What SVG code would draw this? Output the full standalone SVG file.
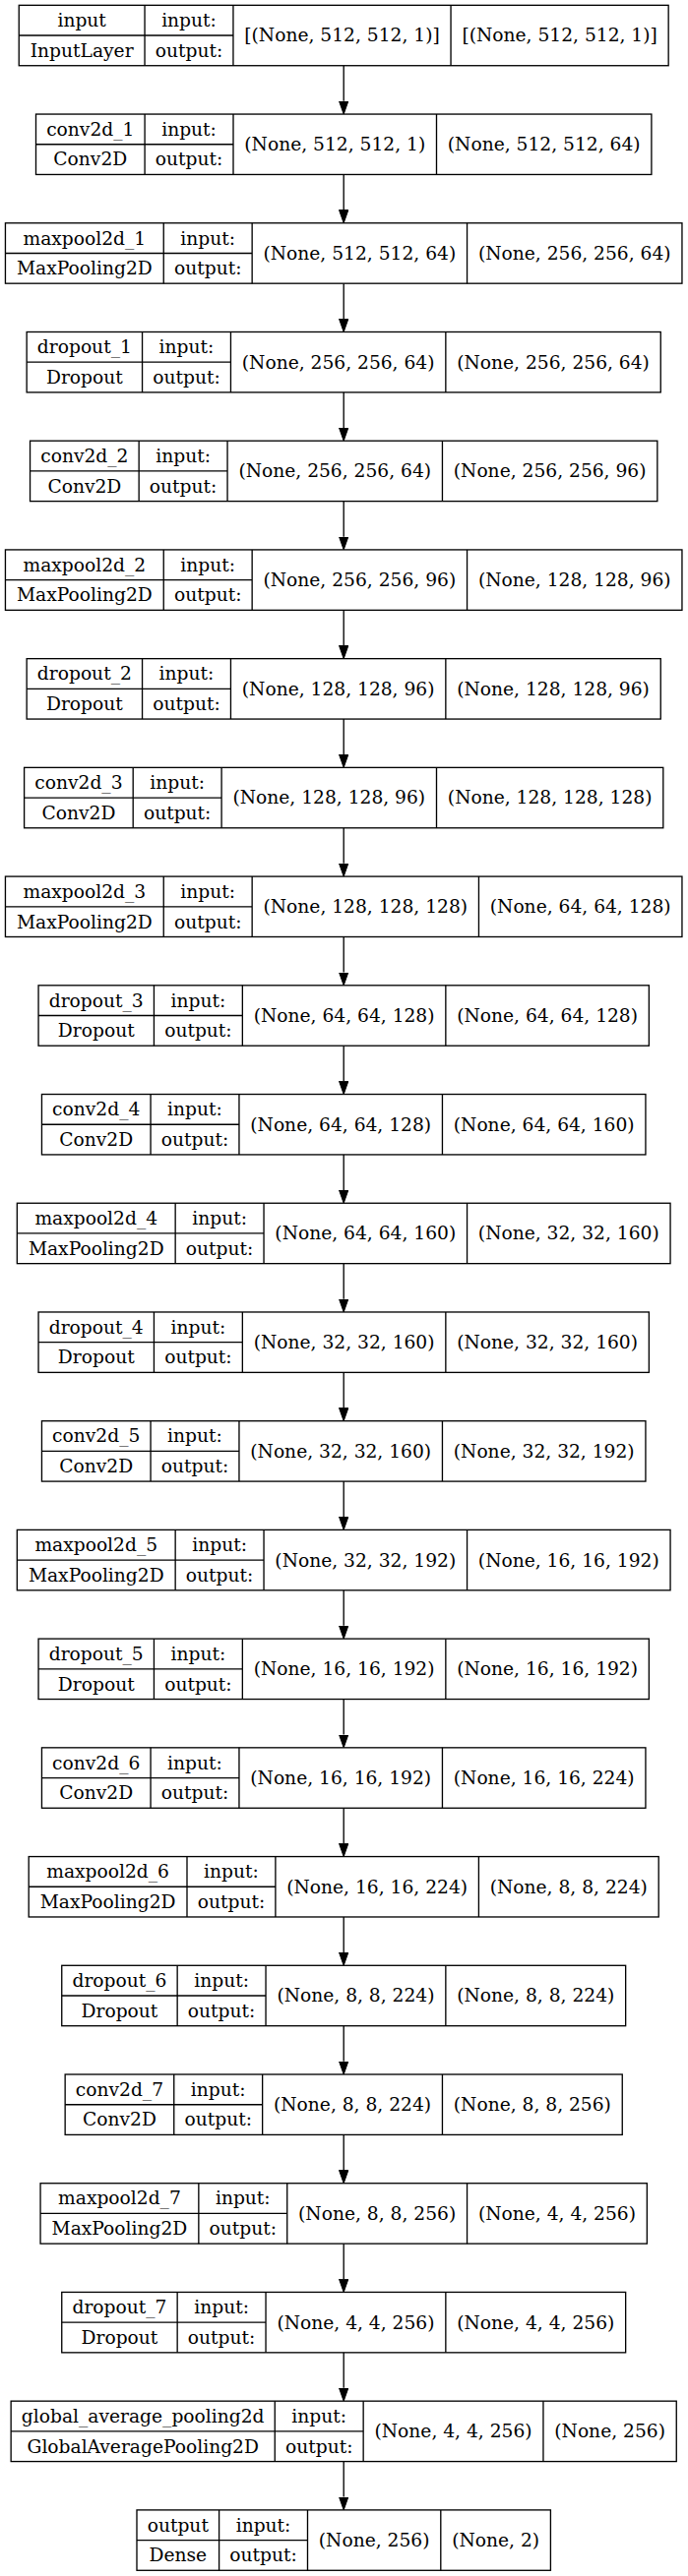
<svg xmlns="http://www.w3.org/2000/svg" width="699" height="2619" viewBox="0 0 699 2619">
<style>
.b{fill:#fff;stroke:#000;stroke-width:1.33}
.l{stroke:#000;stroke-width:1.33;fill:none}
text{font-family:"DejaVu Serif","Liberation Serif",serif;font-size:18.67px;text-anchor:middle;fill:#000}
.e{stroke:#000;stroke-width:1.33;fill:none;marker-end:url(#ah)}
</style>
<defs>
<marker id="ah" markerUnits="userSpaceOnUse" markerWidth="14" markerHeight="10" refX="0" refY="5" orient="auto"><path d="M0,0.33 L13.3,5 L0,9.67 z" fill="#000" stroke="#000" stroke-width="1"/></marker>
</defs>
<rect width="699" height="2619" fill="#fff"/>
<g id="connectors">
<line class="e" x1="349.2" y1="66.73" x2="349.2" y2="102.75"/>
<line class="e" x1="349.2" y1="177.45" x2="349.2" y2="213.47"/>
<line class="e" x1="349.2" y1="288.17" x2="349.2" y2="324.19"/>
<line class="e" x1="349.2" y1="398.89" x2="349.2" y2="434.91"/>
<line class="e" x1="349.2" y1="509.61" x2="349.2" y2="545.63"/>
<line class="e" x1="349.2" y1="620.33" x2="349.2" y2="656.35"/>
<line class="e" x1="349.2" y1="731.05" x2="349.2" y2="767.07"/>
<line class="e" x1="349.2" y1="841.77" x2="349.2" y2="877.79"/>
<line class="e" x1="349.2" y1="952.49" x2="349.2" y2="988.51"/>
<line class="e" x1="349.2" y1="1063.21" x2="349.2" y2="1099.23"/>
<line class="e" x1="349.2" y1="1173.93" x2="349.2" y2="1209.95"/>
<line class="e" x1="349.2" y1="1284.65" x2="349.2" y2="1320.67"/>
<line class="e" x1="349.2" y1="1395.37" x2="349.2" y2="1431.39"/>
<line class="e" x1="349.2" y1="1506.09" x2="349.2" y2="1542.11"/>
<line class="e" x1="349.2" y1="1616.81" x2="349.2" y2="1652.83"/>
<line class="e" x1="349.2" y1="1727.53" x2="349.2" y2="1763.55"/>
<line class="e" x1="349.2" y1="1838.25" x2="349.2" y2="1874.27"/>
<line class="e" x1="349.2" y1="1948.97" x2="349.2" y2="1984.99"/>
<line class="e" x1="349.2" y1="2059.69" x2="349.2" y2="2095.71"/>
<line class="e" x1="349.2" y1="2170.41" x2="349.2" y2="2206.43"/>
<line class="e" x1="349.2" y1="2281.13" x2="349.2" y2="2317.15"/>
<line class="e" x1="349.2" y1="2391.85" x2="349.2" y2="2427.87"/>
<line class="e" x1="349.2" y1="2502.57" x2="349.2" y2="2538.59"/>
</g>

<g id="input" transform="translate(19.25,5.33)">
<rect class="b" width="659.9" height="61.4"/>
<path class="l" d="M127.8,0V61.4M217.7,0V61.4M438.8,0V61.4M0,30.7H217.7"/>
<text x="63.9" y="21.75">input</text><text x="63.9" y="52.45">InputLayer</text>
<text x="172.75" y="21.75">input:</text><text x="172.75" y="52.45">output:</text>
<text x="328.25" y="37.1">[(None, 512, 512, 1)]</text><text x="549.35" y="37.1">[(None, 512, 512, 1)]</text>
</g>

<g id="conv2d_1" transform="translate(36.5,116.05)">
<rect class="b" width="625.4" height="61.4"/>
<path class="l" d="M110.6,0V61.4M200.5,0V61.4M407,0V61.4M0,30.7H200.5"/>
<text x="55.3" y="21.75">conv2d_1</text><text x="55.3" y="52.45">Conv2D</text>
<text x="155.55" y="21.75">input:</text><text x="155.55" y="52.45">output:</text>
<text x="303.75" y="37.1">(None, 512, 512, 1)</text><text x="516.2" y="37.1">(None, 512, 512, 64)</text>
</g>

<g id="maxpool2d_1" transform="translate(5.45,226.77)">
<rect class="b" width="687.5" height="61.4"/>
<path class="l" d="M160.8,0V61.4M250.7,0V61.4M469.1,0V61.4M0,30.7H250.7"/>
<text x="80.4" y="21.75">maxpool2d_1</text><text x="80.4" y="52.45">MaxPooling2D</text>
<text x="205.75" y="21.75">input:</text><text x="205.75" y="52.45">output:</text>
<text x="359.9" y="37.1">(None, 512, 512, 64)</text><text x="578.3" y="37.1">(None, 256, 256, 64)</text>
</g>

<g id="dropout_1" transform="translate(27.15,337.49)">
<rect class="b" width="644.1" height="61.4"/>
<path class="l" d="M117.4,0V61.4M207.3,0V61.4M425.7,0V61.4M0,30.7H207.3"/>
<text x="58.7" y="21.75">dropout_1</text><text x="58.7" y="52.45">Dropout</text>
<text x="162.35" y="21.75">input:</text><text x="162.35" y="52.45">output:</text>
<text x="316.5" y="37.1">(None, 256, 256, 64)</text><text x="534.9" y="37.1">(None, 256, 256, 64)</text>
</g>

<g id="conv2d_2" transform="translate(30.55,448.21)">
<rect class="b" width="637.3" height="61.4"/>
<path class="l" d="M110.6,0V61.4M200.5,0V61.4M418.9,0V61.4M0,30.7H200.5"/>
<text x="55.3" y="21.75">conv2d_2</text><text x="55.3" y="52.45">Conv2D</text>
<text x="155.55" y="21.75">input:</text><text x="155.55" y="52.45">output:</text>
<text x="309.7" y="37.1">(None, 256, 256, 64)</text><text x="528.1" y="37.1">(None, 256, 256, 96)</text>
</g>

<g id="maxpool2d_2" transform="translate(5.45,558.93)">
<rect class="b" width="687.5" height="61.4"/>
<path class="l" d="M160.8,0V61.4M250.7,0V61.4M469.1,0V61.4M0,30.7H250.7"/>
<text x="80.4" y="21.75">maxpool2d_2</text><text x="80.4" y="52.45">MaxPooling2D</text>
<text x="205.75" y="21.75">input:</text><text x="205.75" y="52.45">output:</text>
<text x="359.9" y="37.1">(None, 256, 256, 96)</text><text x="578.3" y="37.1">(None, 128, 128, 96)</text>
</g>

<g id="dropout_2" transform="translate(27.15,669.65)">
<rect class="b" width="644.1" height="61.4"/>
<path class="l" d="M117.4,0V61.4M207.3,0V61.4M425.7,0V61.4M0,30.7H207.3"/>
<text x="58.7" y="21.75">dropout_2</text><text x="58.7" y="52.45">Dropout</text>
<text x="162.35" y="21.75">input:</text><text x="162.35" y="52.45">output:</text>
<text x="316.5" y="37.1">(None, 128, 128, 96)</text><text x="534.9" y="37.1">(None, 128, 128, 96)</text>
</g>

<g id="conv2d_3" transform="translate(24.6,780.37)">
<rect class="b" width="649.2" height="61.4"/>
<path class="l" d="M110.6,0V61.4M200.5,0V61.4M418.9,0V61.4M0,30.7H200.5"/>
<text x="55.3" y="21.75">conv2d_3</text><text x="55.3" y="52.45">Conv2D</text>
<text x="155.55" y="21.75">input:</text><text x="155.55" y="52.45">output:</text>
<text x="309.7" y="37.1">(None, 128, 128, 96)</text><text x="534.05" y="37.1">(None, 128, 128, 128)</text>
</g>

<g id="maxpool2d_3" transform="translate(5.45,891.09)">
<rect class="b" width="687.5" height="61.4"/>
<path class="l" d="M160.8,0V61.4M250.7,0V61.4M481,0V61.4M0,30.7H250.7"/>
<text x="80.4" y="21.75">maxpool2d_3</text><text x="80.4" y="52.45">MaxPooling2D</text>
<text x="205.75" y="21.75">input:</text><text x="205.75" y="52.45">output:</text>
<text x="365.85" y="37.1">(None, 128, 128, 128)</text><text x="584.25" y="37.1">(None, 64, 64, 128)</text>
</g>

<g id="dropout_3" transform="translate(39.05,1001.81)">
<rect class="b" width="620.3" height="61.4"/>
<path class="l" d="M117.4,0V61.4M207.3,0V61.4M413.8,0V61.4M0,30.7H207.3"/>
<text x="58.7" y="21.75">dropout_3</text><text x="58.7" y="52.45">Dropout</text>
<text x="162.35" y="21.75">input:</text><text x="162.35" y="52.45">output:</text>
<text x="310.55" y="37.1">(None, 64, 64, 128)</text><text x="517.05" y="37.1">(None, 64, 64, 128)</text>
</g>

<g id="conv2d_4" transform="translate(42.45,1112.53)">
<rect class="b" width="613.5" height="61.4"/>
<path class="l" d="M110.6,0V61.4M200.5,0V61.4M407,0V61.4M0,30.7H200.5"/>
<text x="55.3" y="21.75">conv2d_4</text><text x="55.3" y="52.45">Conv2D</text>
<text x="155.55" y="21.75">input:</text><text x="155.55" y="52.45">output:</text>
<text x="303.75" y="37.1">(None, 64, 64, 128)</text><text x="510.25" y="37.1">(None, 64, 64, 160)</text>
</g>

<g id="maxpool2d_4" transform="translate(17.35,1223.25)">
<rect class="b" width="663.7" height="61.4"/>
<path class="l" d="M160.8,0V61.4M250.7,0V61.4M457.2,0V61.4M0,30.7H250.7"/>
<text x="80.4" y="21.75">maxpool2d_4</text><text x="80.4" y="52.45">MaxPooling2D</text>
<text x="205.75" y="21.75">input:</text><text x="205.75" y="52.45">output:</text>
<text x="353.95" y="37.1">(None, 64, 64, 160)</text><text x="560.45" y="37.1">(None, 32, 32, 160)</text>
</g>

<g id="dropout_4" transform="translate(39.05,1333.97)">
<rect class="b" width="620.3" height="61.4"/>
<path class="l" d="M117.4,0V61.4M207.3,0V61.4M413.8,0V61.4M0,30.7H207.3"/>
<text x="58.7" y="21.75">dropout_4</text><text x="58.7" y="52.45">Dropout</text>
<text x="162.35" y="21.75">input:</text><text x="162.35" y="52.45">output:</text>
<text x="310.55" y="37.1">(None, 32, 32, 160)</text><text x="517.05" y="37.1">(None, 32, 32, 160)</text>
</g>

<g id="conv2d_5" transform="translate(42.45,1444.69)">
<rect class="b" width="613.5" height="61.4"/>
<path class="l" d="M110.6,0V61.4M200.5,0V61.4M407,0V61.4M0,30.7H200.5"/>
<text x="55.3" y="21.75">conv2d_5</text><text x="55.3" y="52.45">Conv2D</text>
<text x="155.55" y="21.75">input:</text><text x="155.55" y="52.45">output:</text>
<text x="303.75" y="37.1">(None, 32, 32, 160)</text><text x="510.25" y="37.1">(None, 32, 32, 192)</text>
</g>

<g id="maxpool2d_5" transform="translate(17.35,1555.41)">
<rect class="b" width="663.7" height="61.4"/>
<path class="l" d="M160.8,0V61.4M250.7,0V61.4M457.2,0V61.4M0,30.7H250.7"/>
<text x="80.4" y="21.75">maxpool2d_5</text><text x="80.4" y="52.45">MaxPooling2D</text>
<text x="205.75" y="21.75">input:</text><text x="205.75" y="52.45">output:</text>
<text x="353.95" y="37.1">(None, 32, 32, 192)</text><text x="560.45" y="37.1">(None, 16, 16, 192)</text>
</g>

<g id="dropout_5" transform="translate(39.05,1666.13)">
<rect class="b" width="620.3" height="61.4"/>
<path class="l" d="M117.4,0V61.4M207.3,0V61.4M413.8,0V61.4M0,30.7H207.3"/>
<text x="58.7" y="21.75">dropout_5</text><text x="58.7" y="52.45">Dropout</text>
<text x="162.35" y="21.75">input:</text><text x="162.35" y="52.45">output:</text>
<text x="310.55" y="37.1">(None, 16, 16, 192)</text><text x="517.05" y="37.1">(None, 16, 16, 192)</text>
</g>

<g id="conv2d_6" transform="translate(42.45,1776.85)">
<rect class="b" width="613.5" height="61.4"/>
<path class="l" d="M110.6,0V61.4M200.5,0V61.4M407,0V61.4M0,30.7H200.5"/>
<text x="55.3" y="21.75">conv2d_6</text><text x="55.3" y="52.45">Conv2D</text>
<text x="155.55" y="21.75">input:</text><text x="155.55" y="52.45">output:</text>
<text x="303.75" y="37.1">(None, 16, 16, 192)</text><text x="510.25" y="37.1">(None, 16, 16, 224)</text>
</g>

<g id="maxpool2d_6" transform="translate(29.2,1887.57)">
<rect class="b" width="640" height="61.4"/>
<path class="l" d="M160.8,0V61.4M250.7,0V61.4M457.2,0V61.4M0,30.7H250.7"/>
<text x="80.4" y="21.75">maxpool2d_6</text><text x="80.4" y="52.45">MaxPooling2D</text>
<text x="205.75" y="21.75">input:</text><text x="205.75" y="52.45">output:</text>
<text x="353.95" y="37.1">(None, 16, 16, 224)</text><text x="548.6" y="37.1">(None, 8, 8, 224)</text>
</g>

<g id="dropout_6" transform="translate(62.75,1998.29)">
<rect class="b" width="572.9" height="61.4"/>
<path class="l" d="M117.4,0V61.4M207.3,0V61.4M390.1,0V61.4M0,30.7H207.3"/>
<text x="58.7" y="21.75">dropout_6</text><text x="58.7" y="52.45">Dropout</text>
<text x="162.35" y="21.75">input:</text><text x="162.35" y="52.45">output:</text>
<text x="298.7" y="37.1">(None, 8, 8, 224)</text><text x="481.5" y="37.1">(None, 8, 8, 224)</text>
</g>

<g id="conv2d_7" transform="translate(66.15,2109.01)">
<rect class="b" width="566.1" height="61.4"/>
<path class="l" d="M110.6,0V61.4M200.5,0V61.4M383.3,0V61.4M0,30.7H200.5"/>
<text x="55.3" y="21.75">conv2d_7</text><text x="55.3" y="52.45">Conv2D</text>
<text x="155.55" y="21.75">input:</text><text x="155.55" y="52.45">output:</text>
<text x="291.9" y="37.1">(None, 8, 8, 224)</text><text x="474.7" y="37.1">(None, 8, 8, 256)</text>
</g>

<g id="maxpool2d_7" transform="translate(41.05,2219.73)">
<rect class="b" width="616.3" height="61.4"/>
<path class="l" d="M160.8,0V61.4M250.7,0V61.4M433.5,0V61.4M0,30.7H250.7"/>
<text x="80.4" y="21.75">maxpool2d_7</text><text x="80.4" y="52.45">MaxPooling2D</text>
<text x="205.75" y="21.75">input:</text><text x="205.75" y="52.45">output:</text>
<text x="342.1" y="37.1">(None, 8, 8, 256)</text><text x="524.9" y="37.1">(None, 4, 4, 256)</text>
</g>

<g id="dropout_7" transform="translate(62.75,2330.45)">
<rect class="b" width="572.9" height="61.4"/>
<path class="l" d="M117.4,0V61.4M207.3,0V61.4M390.1,0V61.4M0,30.7H207.3"/>
<text x="58.7" y="21.75">dropout_7</text><text x="58.7" y="52.45">Dropout</text>
<text x="162.35" y="21.75">input:</text><text x="162.35" y="52.45">output:</text>
<text x="298.7" y="37.1">(None, 4, 4, 256)</text><text x="481.5" y="37.1">(None, 4, 4, 256)</text>
</g>

<g id="global_average_pooling2d" transform="translate(11.15,2441.17)">
<rect class="b" width="676.1" height="61.4"/>
<path class="l" d="M268.1,0V61.4M358,0V61.4M540.8,0V61.4M0,30.7H358"/>
<text x="134.05" y="21.75">global_average_pooling2d</text><text x="134.05" y="52.45">GlobalAveragePooling2D</text>
<text x="313.05" y="21.75">input:</text><text x="313.05" y="52.45">output:</text>
<text x="449.4" y="37.1">(None, 4, 4, 256)</text><text x="608.45" y="37.1">(None, 256)</text>
</g>

<g id="output" transform="translate(139,2551.89)">
<rect class="b" width="420.4" height="61.4"/>
<path class="l" d="M83.6,0V61.4M173.5,0V61.4M308.8,0V61.4M0,30.7H173.5"/>
<text x="41.8" y="21.75">output</text><text x="41.8" y="52.45">Dense</text>
<text x="128.55" y="21.75">input:</text><text x="128.55" y="52.45">output:</text>
<text x="241.15" y="37.1">(None, 256)</text><text x="364.6" y="37.1">(None, 2)</text>
</g>
</svg>
